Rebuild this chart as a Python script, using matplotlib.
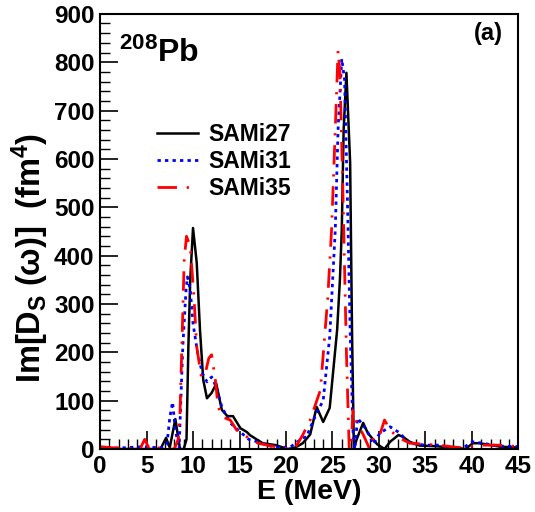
import matplotlib
matplotlib.use("Agg")
import matplotlib.pyplot as plt
from matplotlib.ticker import MultipleLocator

plt.rcParams['font.family'] = ['Liberation Sans', 'DejaVu Sans']
plt.rcParams['font.weight'] = 'bold'
plt.rcParams['mathtext.fontset'] = 'custom'
plt.rcParams['mathtext.rm'] = 'Liberation Sans:bold'
plt.rcParams['mathtext.it'] = 'Liberation Sans:bold'
plt.rcParams['mathtext.bf'] = 'Liberation Sans:bold'

# SAMi27 (black solid)
e27 = [0, 3, 6.5, 7.1, 7.5, 8.1, 8.6, 9.0, 9.3, 9.5, 9.7, 10.0, 10.4, 10.75, 11.1, 11.5, 12.0, 12.5,
       13.1, 13.7, 14.3, 15.1, 15.8, 16.1, 17.5, 18.9, 20.2, 21.0, 21.8, 22.6, 23.3, 24.0, 24.7, 25.5,
       25.8, 26.0, 26.2, 26.5, 26.9, 27.1, 27.3, 27.6, 28.3, 28.8, 29.8, 30.6, 31.2, 32.1, 32.6, 33.3,
       34.4, 36.0, 38.5, 39.3, 40.1, 40.8, 43.0, 45]
v27 = [0, 0, 0, 23, 3, 62, 0, 0, 20, 211, 350, 457, 385, 246, 143, 105, 116, 135,
       81, 68, 68, 43, 35, 29, 12, 8, 0, 3, 12, 30, 87, 56, 85, 246,
       350, 453, 660, 778, 592, 246, 0, 20, 54, 33, 10, 0, 15, 29, 25, 15,
       7, 6, 2, 0, 12, 12, 5, 3]

# SAMi31 (blue dotted)
e31 = [0, 2, 4.8, 6.5, 7.2, 7.5, 7.8, 8.1, 8.5, 8.9, 9.25, 9.4, 9.7, 10.0, 10.5, 11.0, 11.5, 12.0,
       12.5, 13.1, 14.0, 15.1, 16.0, 16.9, 18.5, 20.4, 21.8, 22.2, 23.3, 24.0, 24.7, 25.3, 25.6, 26.0,
       26.3, 26.6, 26.9, 27.2, 27.4, 27.7, 28.7, 29.4, 30.1, 31.2, 32.1, 33.3, 35, 36.5, 37.6, 39,
       40.1, 40.8, 43, 45]
v31 = [3, 2, 5, 2, 10, 65, 97, 40, 0, 211, 330, 356, 330, 260, 198, 157, 139, 149,
       128, 87, 54, 35, 20, 15, 5, 3, 23, 25, 75, 100, 232, 453, 660, 807,
       764, 522, 246, 39, 0, 64, 39, 10, 33, 46, 35, 12, 8, 8, 3, 2,
       15, 13, 6, 5]

# SAMi35 (red dash-dot)
e35 = [0, 1, 4.3, 4.8, 5.3, 6.0, 6.7, 7.3, 8.0, 8.4, 8.6, 8.9, 9.05, 9.3, 9.7, 10.1, 10.4, 10.9,
       11.3, 11.7, 12.0, 12.4, 12.7, 13.2, 14.0, 14.7, 15.8, 17.0, 18.5, 20.4, 21.0, 21.8, 22.6, 23.7,
       24.5, 24.9, 25.3, 25.6, 25.8, 26.1, 26.5, 26.8, 27.0, 27.2, 27.6, 28.3, 29.0, 29.4, 30.0, 30.6,
       31.2, 32.0, 33.3, 35, 37.3, 39, 40.5, 43, 45]
v35 = [5, 3, 0, 20, 0, 0, 5, 0, 0, 20, 75, 282, 391, 440, 419, 315, 211, 149,
       155, 188, 195, 143, 87, 66, 60, 39, 25, 12, 6, 0, 3, 29, 60, 122,
       315, 453, 660, 824, 780, 550, 200, 0, 0, 80, 56, 30, 0, 23, 24, 60,
       39, 25, 12, 10, 6, 2, 8, 8, 5]

labels = ['SAMi27', 'SAMi31', 'SAMi35']
xticks = [0, 5, 10, 15, 20, 25, 30, 35, 40, 45]
yticks = [0, 100, 200, 300, 400, 500, 600, 700, 800, 900]

fig = plt.figure(figsize=(5.35, 5.12), dpi=100)
ax = fig.add_axes([0.187, 0.123, 0.782, 0.850])

ax.plot(e27, v27, color='black', lw=1.8, ls='-', label=labels[0])
ax.plot(e31, v31, color='#0000ff', lw=2.0, ls=(0, (1.2, 1.5)), label=labels[1])
ax.plot(e35, v35, color='#ff0000', lw=2.0, ls=(0, (7, 3.5, 0.8, 3.5)), label=labels[2])

ax.set_xlim(0, 45)
ax.set_ylim(0, 900)
ax.set_xticks(xticks)
ax.set_yticks(yticks)
ax.xaxis.set_minor_locator(MultipleLocator(1))
ax.yaxis.set_minor_locator(MultipleLocator(20))
ax.tick_params(axis='both', which='major', direction='in', length=13, width=1.2,
               labelsize=17.5, top=False, right=False, pad=4)
ax.tick_params(axis='both', which='minor', direction='in', length=7, width=1.0,
               top=False, right=False)
for lab in ax.get_xticklabels() + ax.get_yticklabels():
    lab.set_fontweight('bold')
for sp in ax.spines.values():
    sp.set_linewidth(1.5)

ax.set_xlabel('E (MeV)', fontsize=20.5, fontweight='bold', labelpad=1)
ax.set_ylabel(r'Im[D$_{\mathrm{S}}$$\;$($\mathrm{\omega}$)]$\;$ (fm$^{\mathrm{4}}$)',
              fontsize=23.5, fontweight='bold')
ax.yaxis.set_label_coords(-0.118, 0.44)

ax.text(0.045, 0.89, r'$^{\mathrm{208}}$Pb', transform=ax.transAxes,
        fontsize=23, fontweight='bold', ha='left', va='baseline')
ax.text(0.962, 0.955, '(a)', transform=ax.transAxes, fontsize=17,
        fontweight='bold', ha='right', va='center')

leg = ax.legend(loc='upper left', bbox_to_anchor=(0.136, 0.748), frameon=False,
                prop={'size': 16.5, 'weight': 'bold'}, handlelength=1.8,
                handletextpad=0.45, labelspacing=0.17, borderpad=0, borderaxespad=0)

fig.savefig('out.png', dpi=100)
